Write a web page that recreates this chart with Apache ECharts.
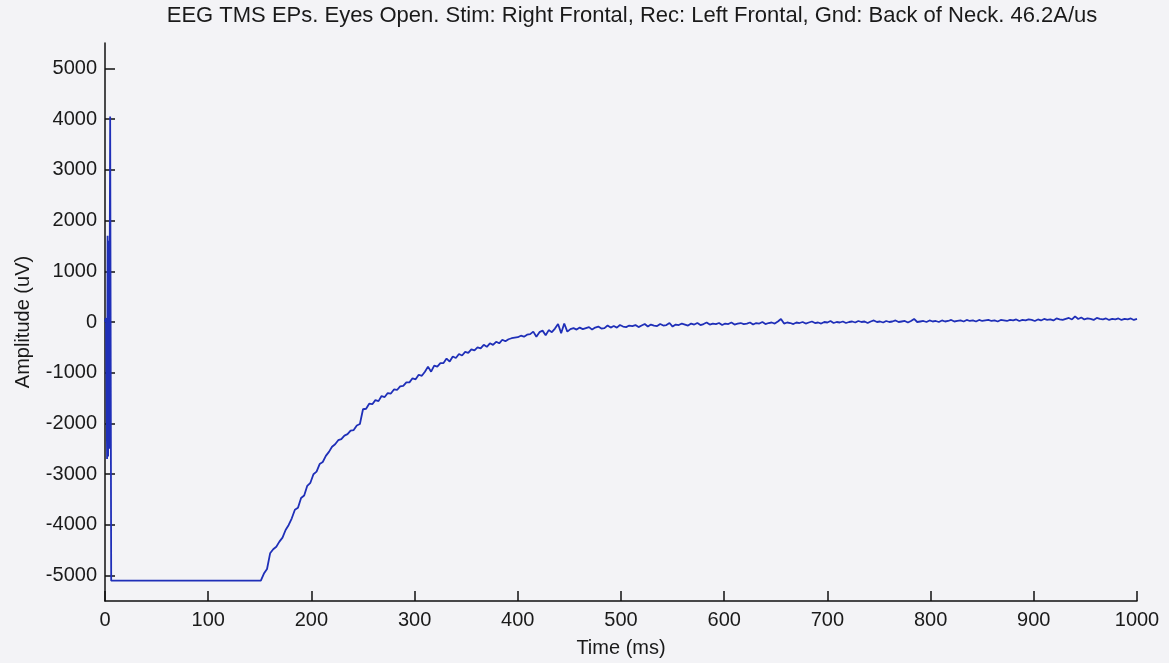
<!DOCTYPE html>
<html>
<head>
<meta charset="utf-8">
<script src="https://cdn.jsdelivr.net/npm/echarts@6/dist/echarts.min.js"></script>
<style>
html,body{margin:0;padding:0;background:#f3f3f6;}
#chart{width:1169px;height:663px;}
</style>
</head>
<body>
<div id="chart"></div>
<script>
const titleText = 'EEG TMS EPs. Eyes Open. Stim: Right Frontal, Rec: Left Frontal, Gnd: Back of Neck. 46.2A/us';
const xName = 'Time (ms)';
const yName = 'Amplitude (uV)';
const xTicks = [0,100,200,300,400,500,600,700,800,900,1000];
const yTicks = [-5000,-4000,-3000,-2000,-1000,0,1000,2000,3000,4000,5000];

// stimulus artefact at the start (ms, uV)
const spikeTimes  = [0, 1, 2, 2.5, 3, 3.5, 4, 5, 6];
const spikeValues = [0, 80, -2700, 1700, -2650, 1600, -2500, 4050, -5100];

// recovery after saturation, sampled every 3 ms from 151 ms
const recoveryStart = 151;
const recoveryStep = 3;
const recoveryValues = [
-5100,-4960,-4870,-4560,-4480,-4430,-4330,-4250,-4100,-4000,
-3870,-3700,-3660,-3470,-3420,-3230,-3170,-3000,-2950,-2800,
-2760,-2640,-2560,-2460,-2410,-2330,-2310,-2240,-2210,-2140,
-2130,-2040,-2010,-1720,-1710,-1610,-1620,-1540,-1560,-1460,
-1480,-1400,-1410,-1330,-1340,-1270,-1260,-1190,-1190,-1110,
-1130,-1040,-1060,-980,-880,-980,-860,-880,-810,-810,
-720,-780,-680,-710,-630,-660,-590,-610,-540,-560,
-500,-520,-450,-490,-420,-450,-390,-420,-350,-380,
-340,-320,-310,-300,-270,-290,-250,-240,-190,-290,
-200,-170,-260,-160,-200,-130,-40,-220,-30,-190,
-140,-120,-150,-110,-140,-120,-100,-150,-110,-90,
-130,-120,-70,-110,-80,-110,-60,-90,-100,-70,
-80,-60,-100,-70,-40,-90,-50,-70,-80,-40,
-70,-60,-20,-90,-50,-60,-30,-50,-70,-30,
-50,-20,-60,-40,-10,-50,-30,-40,-20,-60,
-30,-40,-10,-50,-30,-20,-40,-30,-10,-50,
-20,-30,0,-40,-20,-10,-30,10,60,-30,
-10,-20,-40,-10,-20,0,-30,-10,10,-20,
-10,-30,0,-10,20,-20,0,-10,10,-20,
0,10,-10,20,0,10,-20,10,30,0,
10,-10,20,0,10,30,0,10,20,-10,
20,60,0,10,20,0,30,10,20,0,
30,10,20,40,10,20,30,10,40,20,
30,10,40,20,30,40,20,30,10,40,
30,20,40,30,50,20,40,30,50,40,
20,50,30,60,40,50,30,70,50,40,
60,80,50,110,60,90,50,70,60,40,
80,60,50,70,40,60,50,70,40,60,
50,70,40,60
];

const seriesData = [];
spikeTimes.forEach((t, i) => seriesData.push([t, spikeValues[i]]));
recoveryValues.forEach((v, i) => seriesData.push([recoveryStart + recoveryStep * i, v]));

const chart = echarts.init(document.getElementById('chart'), null, {renderer: 'canvas'});
const font = 'Liberation Sans, Arial, sans-serif';
const plain = v => String(v);
chart.setOption({
  backgroundColor: '#f3f3f6',
  animation: false,
  title: {
    text: titleText,
    left: 627,
    textAlign: 'center',
    top: 0,
    textStyle: {fontFamily: font, fontSize: 22, fontWeight: 'normal', color: '#1a1a1a'}
  },
  grid: {left: 105, right: 32, top: 43, bottom: 58, containLabel: false},
  xAxis: {
    type: 'value', min: 0, max: 1000,
    axisLine: {show: true, onZero: false, lineStyle: {color: '#111', width: 1.5}},
    axisTick: {show: true, inside: true, length: 10, customValues: xTicks, lineStyle: {color: '#111', width: 1.5}},
    axisLabel: {customValues: xTicks, formatter: plain, margin: 9, fontFamily: font, fontSize: 20, color: '#1a1a1a'},
    splitLine: {show: false},
    name: xName, nameLocation: 'middle', nameGap: 37,
    nameTextStyle: {fontFamily: font, fontSize: 20, color: '#1a1a1a'}
  },
  yAxis: {
    type: 'value', min: -5500, max: 5500,
    axisLine: {show: true, onZero: false, lineStyle: {color: '#111', width: 1.5}},
    axisTick: {show: true, inside: true, length: 10, customValues: yTicks, lineStyle: {color: '#111', width: 1.5}},
    axisLabel: {customValues: yTicks, formatter: plain, margin: 8, fontFamily: font, fontSize: 20, color: '#1a1a1a'},
    splitLine: {show: false},
    name: yName, nameLocation: 'middle', nameGap: 72, nameRotate: 90,
    nameTextStyle: {fontFamily: font, fontSize: 20, color: '#1a1a1a'}
  },
  series: [{
    type: 'line',
    data: seriesData,
    showSymbol: false,
    symbol: 'none',
    lineStyle: {color: '#1f2fb8', width: 1.8},
    clip: false
  }]
});
</script>
</body>
</html>
